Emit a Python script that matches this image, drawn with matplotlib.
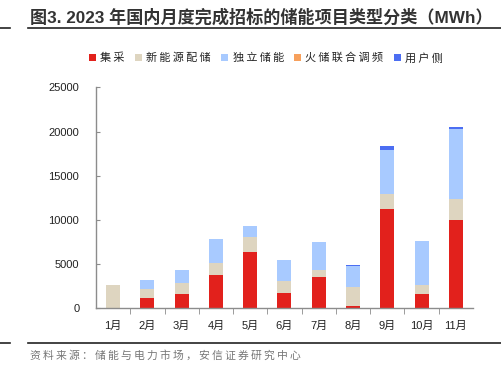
import matplotlib
matplotlib.use("Agg")
import matplotlib.pyplot as plt
import numpy as np
from matplotlib.lines import Line2D

plt.rcParams['font.family'] = ['Liberation Sans', 'Noto Sans CJK SC', 'DejaVu Sans']

months = ["1月", "2月", "3月", "4月", "5月", "6月", "7月", "8月", "9月", "10月", "11月"]
series_names = ["集采", "新能源配储", "独立储能", "火储联合调频", "用户侧"]
jicai = [0, 1200, 1580, 3770, 6400, 1770, 3500, 260, 11270, 1650, 10030]
xinnengyuan = [2600, 980, 1280, 1350, 1670, 1280, 830, 2190, 1660, 950, 2340]
duli = [0, 990, 1470, 2720, 1280, 2410, 3150, 2370, 4980, 4980, 7880]
huochu = [0, 0, 0, 0, 0, 0, 0, 0, 0, 0, 0]
yonghu = [0, 0, 0, 0, 0, 0, 50, 80, 410, 0, 300]
colors = ["#E2211C", "#DED5C0", "#A8CAFF", "#F7A05C", "#4C6EF2"]

TS = "\u2009"


def spaced(s):
    return TS.join(list(s))


fig = plt.figure(figsize=(5.01, 3.67), dpi=100)
ax = fig.add_axes([0.1916, 0.16, 0.7524, 0.602])

x = np.arange(len(months))
bottom = np.zeros(len(months))
for vals, c, name in zip([jicai, xinnengyuan, duli, huochu, yonghu], colors, series_names):
    ax.bar(x, vals, width=0.41, bottom=bottom, color=c, label=spaced(name), linewidth=0)
    bottom += np.array(vals)

ax.set_xlim(-0.5, len(months) - 0.5)
ax.set_ylim(0, 25000)
ax.set_yticks(np.arange(0, 25001, 5000))
ax.set_xticks(x)
ax.set_xticklabels(months)
ax.set_xticks(np.arange(0.5, len(months) - 0.5, 1), minor=True)

for s in ["top", "right"]:
    ax.spines[s].set_visible(False)
for s in ["left", "bottom"]:
    ax.spines[s].set_color("#8c8c8c")
    ax.spines[s].set_linewidth(1.0)

ax.tick_params(axis='x', which='major', length=0, pad=9, labelsize=8, colors='#222222')
ax.tick_params(axis='x', which='minor', length=4, direction='out', color='#8c8c8c')
ax.tick_params(axis='y', length=3, direction='in', color='#8c8c8c', labelsize=8, pad=12, labelcolor='#222222')

fig.text(0.06, 0.955, "图3. 2023 年国内月度完成招标的储能项目类型分类（MWh）",
         fontsize=12.3, fontweight='bold', color='#333333', va='center', ha='left',
         family=['Liberation Sans', 'Noto Sans CJK SC'])

# rules
fig.add_artist(Line2D([0, 0.02], [0.925, 0.925], color='#222222', lw=1.2))
fig.add_artist(Line2D([0.056, 1.0], [0.925, 0.925], color='#222222', lw=1.2))
fig.add_artist(Line2D([0, 0.02], [0.066, 0.066], color='#222222', lw=1.2))
fig.add_artist(Line2D([0.056, 1.0], [0.066, 0.066], color='#222222', lw=1.2))

fig.text(0.06, 0.03, spaced("资料来源：储能与电力市场，安信证券研究中心"), fontsize=7.8,
         color='#777777', style='italic', va='center', ha='left',
         family=['Noto Sans CJK SC', 'DejaVu Sans'])

leg = ax.legend(loc='center', bbox_to_anchor=(0.451, 1.0 + (0.842 - 0.762) / 0.602),
                ncol=5, frameon=False, handlelength=0.6, handleheight=0.6,
                handletextpad=0.4, columnspacing=0.95,
                prop={'family': ['Noto Sans CJK SC', 'DejaVu Sans'], 'size': 8})
for t in leg.get_texts():
    t.set_color('#222222')

fig.savefig("out.png", dpi=100)
